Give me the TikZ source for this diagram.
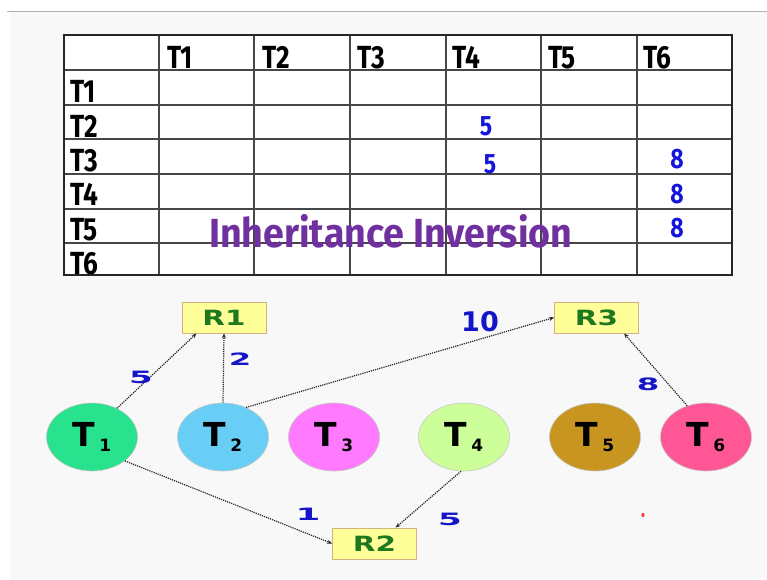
\documentclass[tikz,border=0pt]{standalone}
\usepackage{fontspec}
\setmainfont{Fira Sans}
\newfontfamily\djb{DejaVu Sans}
\usetikzlibrary{shapes.geometric,arrows.meta}
\definecolor{bgc}{RGB}{248,248,248}
\definecolor{gridc}{RGB}{70,70,70}
\definecolor{numblue}{RGB}{20,20,220}
\definecolor{elblue}{RGB}{20,20,200}
\definecolor{titlec}{RGB}{112,48,160}
\definecolor{resyellow}{RGB}{255,255,153}
\definecolor{restan}{RGB}{210,180,130}
\definecolor{resgreen}{RGB}{30,120,30}
\definecolor{cone}{RGB}{40,226,142}
\definecolor{ctwo}{RGB}{104,206,246}
\definecolor{cthree}{RGB}{255,122,255}
\definecolor{cfour}{RGB}{204,255,153}
\definecolor{cfive}{RGB}{200,150,32}
\definecolor{csix}{RGB}{255,86,150}
\newcommand\tasklab[1]{{\djb\bfseries\fontsize{33}{33}\selectfont T\hspace{4pt}\raisebox{-5pt}{\fontsize{17}{17}\selectfont #1}}}
\newcommand\cellt[1]{\scalebox{0.82}[1]{#1}}
\begin{document}
\begin{tikzpicture}[x=1pt,y=-1pt,
  tcell/.style={font=\bfseries\fontsize{32}{32}\selectfont, anchor=base west, inner sep=0},
  num/.style={font=\bfseries\fontsize{28}{28}\selectfont, text=numblue, anchor=base, inner sep=0},
  task/.style={ellipse, minimum width=91pt, minimum height=68pt, inner sep=0, draw=black!22, line width=0.6pt},
  res/.style={rectangle, fill=resyellow, draw=restan, line width=0.8pt, minimum width=84pt, minimum height=31pt, inner sep=0, text=resgreen, font=\djb\bfseries\fontsize{21}{21}\selectfont},
  conn/.style={draw=black!85, line width=1.2pt, dash pattern=on 1.2pt off 1pt, -{Stealth[length=5pt,width=4pt]}},
  elab/.style={text=elblue, inner sep=0, font=\djb\bfseries\fontsize{17}{17}\selectfont},
  gridline/.style={draw=gridc, line width=1.3pt}]
\useasboundingbox (0,0) rectangle (767,579);
\fill[white] (0,0) rectangle (767,579);
\fill[bgc] (10,12) rectangle (767,579);
\draw[black!30, line width=1pt] (7,11.5) -- (767,11.5);
% table
\fill[white] (64,35) rectangle (732,275);
\foreach \x/\l in {167/T1,262/T2,357/T3,452/T4,548/T5,643/T6}
  \node[tcell] (h\l) at (\x,68) {\cellt{\l}};
\foreach \y/\l in {102/T1,137/T2,171/T3,205/T4,240/T5,274/T6}
  \node[tcell] (r\l) at (70,\y) {\cellt{\l}};
\foreach \x in {159,254,350,446,541,637}
  \draw[gridline] (\x,35) -- (\x,275);
\foreach \y in {70,105,139,174,209,243}
  \draw[gridline] (64,\y) -- (732,\y);
\draw[draw=black!85, line width=1.6pt] (64,35) rectangle (732,275);
\node[num] (n24) at (486,135) {\cellt{5}};
\node[num] (n34) at (490,173) {\cellt{5}};
\node[num] (n36) at (677,168) {\cellt{8}};
\node[num] (n46) at (677,203) {\cellt{8}};
\node[num] (n56) at (677,237) {\cellt{8}};
\node[anchor=base west, inner sep=0, text=titlec] (title) at (209,247)
  {\resizebox{363pt}{33pt}{\bfseries Inheritance Inversion}};
% resources
\node[res] (R1) at (224,317.5) {\scalebox{1.4}[1]{R1}};
\node[res] (R3) at (596.5,317.5) {\scalebox{1.4}[1]{R3}};
\node[res] (R2) at (374.5,543.5) {\scalebox{1.4}[1]{R2}};
% tasks
\node[task, fill=cone] (T1) at (92,437) {\tasklab{1}};
\node[task, fill=ctwo] (T2) at (223,437) {\tasklab{2}};
\node[task, fill=cthree] (T3) at (334,437) {\tasklab{3}};
\node[task, fill=cfour] (T4) at (464,437) {\tasklab{4}};
\node[task, fill=cfive] (T5) at (595,437) {\tasklab{5}};
\node[task, fill=csix] (T6) at (706,437) {\tasklab{6}};
% connectors
\draw[conn] (T1.49) -- (R1.210);
\draw[conn] (T2.north) -- (R1.south);
\draw[conn] (T2.52) -- (R3.west);
\draw[conn] (T6.121) -- (R3.330);
\draw[conn] (T1.324) -- (R2.west);
\draw[conn] (T4.265) -- (R2.37);
% edge labels
\node[elab] (l1) at (141,377) {\scalebox{2.0}[1]{5}};
\node[elab] (l2) at (240,359) {\scalebox{1.9}[1]{2}};
\node[elab, font=\djb\bfseries\fontsize{27}{27}\selectfont] (l3) at (480,322) {10};
\node[elab] (l4) at (648,384) {\scalebox{1.9}[1]{8}};
\node[elab] (l5) at (308,514) {\scalebox{2.1}[1]{1}};
\node[elab] (l6) at (450,519) {\scalebox{2.0}[1]{5}};
% small red mark
\fill[red!75] (643,515) ellipse (1.6pt and 2.2pt);
\end{tikzpicture}
\end{document}
